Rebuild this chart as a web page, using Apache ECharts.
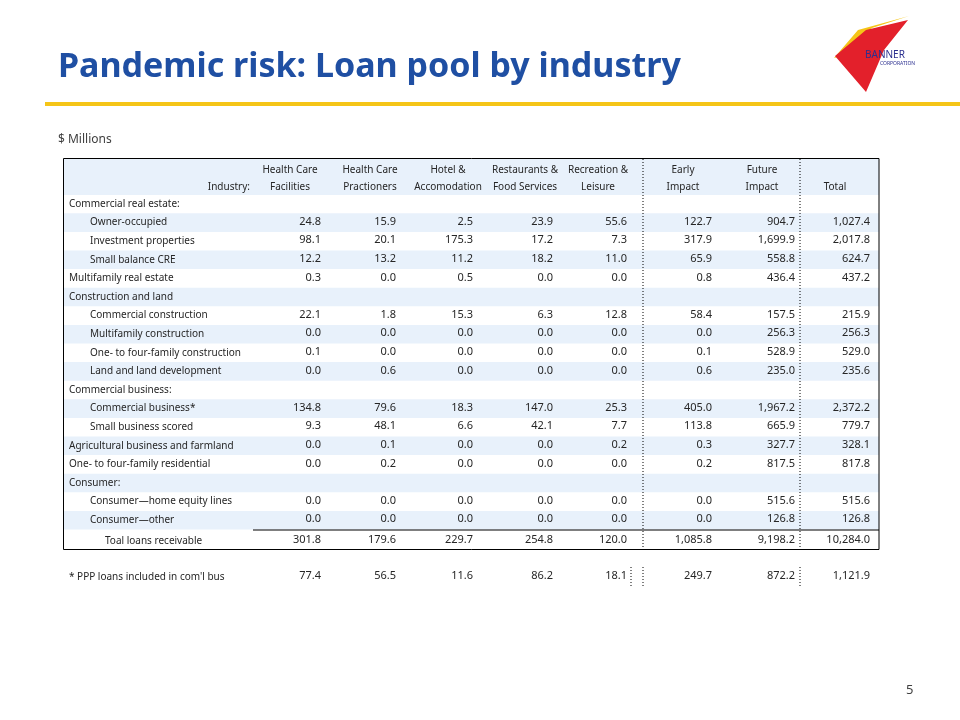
<!DOCTYPE html>
<html><head><meta charset="utf-8">
<script src="https://cdn.jsdelivr.net/npm/echarts@6/dist/echarts.min.js"></script>
<style>html,body{margin:0;padding:0;background:#fff}#main{width:960px;height:720px}</style>
</head><body><div id="main"></div>
<script>
// column headers
const headerTop = ['Health Care', 'Health Care', 'Hotel &', 'Restaurants &', 'Recreation &', 'Early', 'Future', ''];
const headerBottom = ['Facilities', 'Practioners', 'Accomodation', 'Food Services', 'Leisure', 'Impact', 'Impact', 'Total'];

// row labels (indent: 0 = section, 1 = item)
const rowLabels = [
    'Commercial real estate:', 'Owner-occupied', 'Investment properties', 'Small balance CRE',
    'Multifamily real estate', 'Construction and land', 'Commercial construction',
    'Multifamily construction', 'One- to four-family construction', 'Land and land development',
    'Commercial business:', 'Commercial business*', 'Small business scored',
    'Agricultural business and farmland', 'One- to four-family residential', 'Consumer:',
    'Consumer\u2014home equity lines', 'Consumer\u2014other'
];
const rowIndent = [0, 1, 1, 1, 0, 0, 1, 1, 1, 1, 0, 1, 1, 0, 0, 0, 1, 1];
const rowValues = [
    null,
    ['24.8', '15.9', '2.5', '23.9', '55.6', '122.7', '904.7', '1,027.4'],
    ['98.1', '20.1', '175.3', '17.2', '7.3', '317.9', '1,699.9', '2,017.8'],
    ['12.2', '13.2', '11.2', '18.2', '11.0', '65.9', '558.8', '624.7'],
    ['0.3', '0.0', '0.5', '0.0', '0.0', '0.8', '436.4', '437.2'],
    null,
    ['22.1', '1.8', '15.3', '6.3', '12.8', '58.4', '157.5', '215.9'],
    ['0.0', '0.0', '0.0', '0.0', '0.0', '0.0', '256.3', '256.3'],
    ['0.1', '0.0', '0.0', '0.0', '0.0', '0.1', '528.9', '529.0'],
    ['0.0', '0.6', '0.0', '0.0', '0.0', '0.6', '235.0', '235.6'],
    null,
    ['134.8', '79.6', '18.3', '147.0', '25.3', '405.0', '1,967.2', '2,372.2'],
    ['9.3', '48.1', '6.6', '42.1', '7.7', '113.8', '665.9', '779.7'],
    ['0.0', '0.1', '0.0', '0.0', '0.2', '0.3', '327.7', '328.1'],
    ['0.0', '0.2', '0.0', '0.0', '0.0', '0.2', '817.5', '817.8'],
    null,
    ['0.0', '0.0', '0.0', '0.0', '0.0', '0.0', '515.6', '515.6'],
    ['0.0', '0.0', '0.0', '0.0', '0.0', '0.0', '126.8', '126.8']
];
const totalLabel = 'Toal loans receivable';
const totalValues = ['301.8', '179.6', '229.7', '254.8', '120.0', '1,085.8', '9,198.2', '10,284.0'];
const pppLabel = '* PPP loans included in com\'l bus';
const pppValues = ['77.4', '56.5', '11.6', '86.2', '18.1', '249.7', '872.2', '1,121.9'];

const colRight = [321, 396, 473, 553, 627, 712, 795, 870];
const colCenter = [290, 370, 448, 525, 598, 683, 762, 835];
const FONT = '"Segoe UI", "Noto Sans", sans-serif';
const TXT = '#262626';
const BLUE_BAND = '#e8f1fb';

const g = [];
function text(x, y, s, opt) {
    g.push({type: 'text', x: x, y: y, silent: true,
        style: Object.assign({text: s, fill: TXT, font: '10px ' + FONT, textVerticalAlign: 'middle'}, opt || {})});
}
function rect(x, y, w, h, style) { g.push({type: 'rect', shape: {x, y, width: w, height: h}, style}); }
function line(x1, y1, x2, y2, style) { g.push({type: 'line', shape: {x1, y1, x2, y2}, style}); }

// title & decoration
text(58, 67, 'Pandemic risk: Loan pool by industry', {fill: '#1f4fa3', font: 'bold 34px ' + FONT});
rect(45, 102, 915, 4, {fill: '#f5c518'});
g.push({type: 'polygon', shape: {points: [[834, 58], [858, 30], [909, 16], [872, 28], [842, 56]]}, style: {fill: '#f5c518'}});
g.push({type: 'polygon', shape: {points: [[835, 56], [866, 30], [908, 20], [884, 50], [866, 92]]}, style: {fill: '#e3202b'}});
text(865, 55, 'BANNER', {fill: '#2b2f8f', font: '10px ' + FONT});
text(880, 64, 'CORPORATION', {fill: '#2b2f8f', font: '5px ' + FONT});
text(58, 140, '$ Millions', {font: '12px ' + FONT, fill: '#404040'});
text(906, 690, '5', {font: '13px ' + FONT, fill: '#404040'});

// table bands
const top0 = 159, rowH = 18.6, firstY = 204;
rect(64, top0, 815, 36, {fill: BLUE_BAND});
rowLabels.forEach((l, i) => {
    const y = firstY + i * rowH;
    if (i % 2 === 1) rect(64, y - rowH / 2, 815, rowH, {fill: BLUE_BAND});
});

// headers
headerTop.forEach((h, i) => text(colCenter[i], 170, h, {textAlign: 'center'}));
headerBottom.forEach((h, i) => text(colCenter[i], 187, h, {textAlign: 'center'}));
text(250, 187, 'Industry:', {textAlign: 'right'});

// rows
rowLabels.forEach((l, i) => {
    const y = firstY + i * rowH;
    text(rowIndent[i] ? 90 : 69, y, l);
    if (rowValues[i]) rowValues[i].forEach((v, j) => text(colRight[j], y - 1, v, {textAlign: 'right', font: '11px ' + FONT}));
});
const totY = 541;
line(253, 530, 879, 530, {stroke: '#000', lineWidth: 1});
text(105, totY, totalLabel);
totalValues.forEach((v, j) => text(colRight[j], totY - 1, v, {textAlign: 'right', font: '11px ' + FONT}));
rect(63.5, 158.5, 815.5, 391, {fill: 'none', stroke: '#000', lineWidth: 1});

const pY = 577;
text(69, pY, pppLabel);
pppValues.forEach((v, j) => text(colRight[j], pY - 1, v, {textAlign: 'right', font: '11px ' + FONT}));

// dotted separators
[643, 800].forEach(x => {
    line(x, 159, x, 549, {stroke: '#000', lineWidth: 1, lineDash: [1, 2]});
    line(x, 567, x, 587, {stroke: '#000', lineWidth: 1, lineDash: [1, 2]});
});
line(631, 567, 631, 587, {stroke: '#000', lineWidth: 1, lineDash: [1, 2]});

const chart = echarts.init(document.getElementById('main'));
chart.setOption({animation: false, graphic: {elements: g}});
</script></body></html>
